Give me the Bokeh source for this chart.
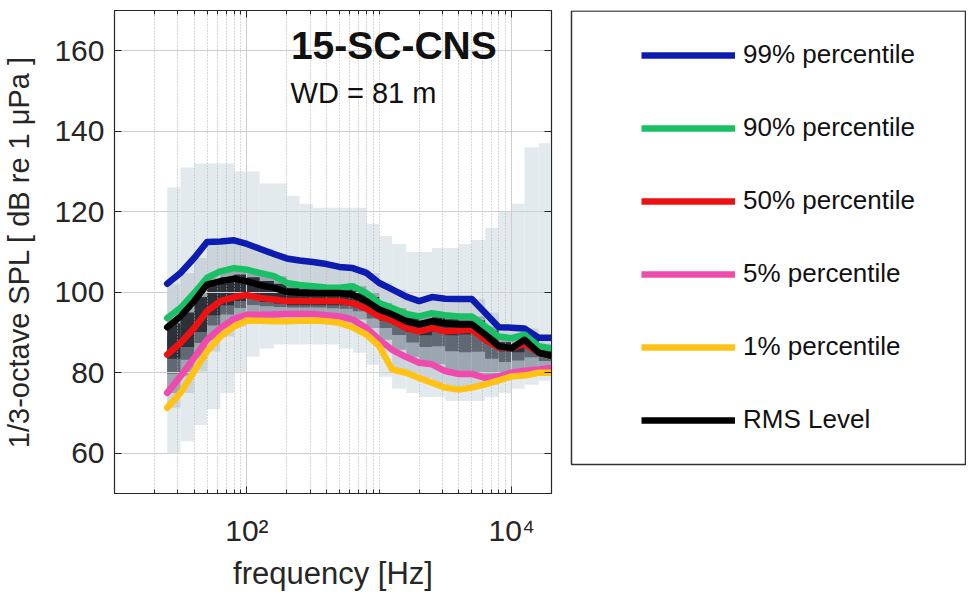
from bokeh.plotting import figure
from bokeh.layouts import row
from bokeh.models import (FixedTicker, LogAxis, LinearAxis, Label, Legend, LegendItem,
                          Range1d, CustomJSTickFormatter, BoxAnnotation)
from bokeh.embed import file_html
from bokeh.resources import INLINE

# ---------------- data ----------------
freqs = [25, 31.5, 40, 50, 63, 80, 100, 125, 160, 200, 250, 315, 400, 500, 630,
         800, 1000, 1250, 1600, 2000, 2500, 3150, 4000, 5000, 6300, 8000, 10000,
         12500, 16000, 20000]

p99 = [102.1, 104.8, 108.5, 112.5, 112.6, 112.9, 112.0, 110.8, 109.5, 108.4, 107.9,
       107.5, 107.0, 106.3, 106.0, 104.8, 102.3, 100.7, 98.9, 97.8, 98.8, 98.4, 98.3,
       98.3, 94.9, 91.3, 91.2, 91.0, 88.7, 88.7]
p90 = [93.6, 96.1, 99.8, 103.6, 105.2, 106.0, 105.6, 104.8, 104.0, 102.3, 101.8,
       101.5, 101.2, 101.1, 101.5, 99.8, 97.3, 96.1, 94.6, 94.0, 94.8, 94.3, 94.0,
       94.0, 91.5, 89.0, 88.6, 89.5, 86.6, 86.1]
p50 = [84.5, 87.4, 91.1, 95.3, 97.8, 98.8, 99.3, 98.6, 98.2, 97.8, 97.8, 97.8, 97.8,
       97.8, 97.3, 95.9, 94.0, 93.0, 91.1, 90.3, 91.1, 90.3, 90.5, 90.7, 88.2, 86.3,
       86.1, 87.2, 85.0, 84.2]
p5 = [75.0, 79.1, 83.7, 88.2, 91.1, 93.4, 94.4, 94.4, 94.5, 94.6, 94.6, 94.6, 94.3,
      94.0, 93.2, 91.1, 88.2, 85.7, 83.9, 82.5, 82.1, 80.4, 79.7, 79.7, 78.7, 79.1,
      80.0, 80.5, 80.8, 81.2]
p1 = [71.3, 75.0, 80.4, 85.3, 89.0, 91.5, 93.0, 92.9, 92.8, 92.8, 92.9, 93.0, 92.8,
      92.4, 91.3, 89.5, 86.6, 80.8, 80.0, 78.7, 77.5, 76.3, 75.8, 76.3, 77.1, 78.1,
      79.1, 79.3, 80.0, 80.0]
rms = [91.3, 94.0, 97.8, 101.9, 102.7, 103.4, 102.7, 101.8, 101.1, 100.1, 99.9, 99.8,
       99.8, 99.8, 99.4, 97.8, 95.7, 94.5, 92.8, 92.0, 92.8, 92.3, 92.0, 92.0, 89.5,
       86.6, 86.1, 88.2, 85.0, 84.2]

# extent of the (light) level distribution
env_max = [126, 131, 132, 132, 132, 130, 130, 127, 127, 124, 122, 121, 121, 121, 121,
           117, 114, 112, 110, 110, 111, 111, 112, 113, 116, 120, 122, 136, 137, 136]
env_min = [60, 63, 67, 71, 75, 80, 84, 86, 87, 87, 87, 87, 87, 86, 85, 82, 79, 76, 75,
           74, 74, 73, 73, 73, 74, 75, 76, 77, 78, 78]

series_labels = ["99% percentile", "90% percentile", "50% percentile",
                 "5% percentile", "1% percentile", "RMS Level"]
series_colors = ["#0c1cb0", "#19c065", "#ee1111", "#ef4aad", "#ffc215", "#000000"]

y_ticks = [60, 80, 100, 120, 140, 160]
x_major = [100, 10000]
x_minor = [10, 20, 30, 40, 50, 60, 70, 80, 90, 200, 300, 400, 500, 600, 700, 800, 900,
           1000, 2000, 3000, 4000, 5000, 6000, 7000, 8000, 9000, 20000]

FONT = "Liberation Sans"
TXT = "#262626"
TOP, BOTTOM = 10, 101

# ---------------- main figure ----------------
p = figure(width=565, height=594, x_axis_type="log", x_range=Range1d(10, 20000),
           y_range=Range1d(50, 170), output_backend="svg", toolbar_location=None,
           min_border_left=114, min_border_right=14, min_border_top=TOP,
           min_border_bottom=BOTTOM)
p.outline_line_color = TXT
p.outline_line_width = 1.2
p.background_fill_color = "white"

# density-like shading (cells from one band centre to the next)
left = freqs[:-1]
right = freqs[1:]
n = len(left)
mid_lo = [(a + b) / 2 for a, b in zip(p5[:n], p50[:n])]
mid_hi = [(a + b) / 2 for a, b in zip(p50[:n], p90[:n])]
core_lo = [min(a, b) - 1.0 for a, b in zip(p50[:n], rms[:n])]
core_hi = [max(a, b) + 1.0 for a, b in zip(p50[:n], rms[:n])]
layers = [
    (env_min[:n], env_max[:n], "#e3eaee"),
    (p1[:n], p99[:n], "#cbd4da"),
    (p5[:n], p90[:n], "#9ca6b0"),
    (mid_lo, mid_hi, "#606874"),
    (core_lo, core_hi, "#2c3139"),
]
for lo, hi, col in layers:
    p.quad(left=left, right=right, bottom=lo, top=hi, fill_color=col,
           line_color=None, level="image")

series = [p99, p90, p50, p5, p1, rms]
for vals, col in zip(series, series_colors):
    p.line(freqs, vals, line_color=col, line_width=6.5, line_join="round",
           line_cap="round")

# axes
p.xaxis.ticker = FixedTicker(ticks=x_major, minor_ticks=x_minor)
p.yaxis.ticker = FixedTicker(ticks=y_ticks, minor_ticks=[])
fmt = CustomJSTickFormatter(code="""
const sup = {'0':'\u2070','1':'\u00b9','2':'\u00b2','3':'\u00b3','4':'\u2074','5':'\u2075'};
const e = Math.round(Math.log10(tick));
return '10' + String(e).split('').map(c => sup[c]).join('');
""")
p.xaxis.formatter = fmt

for ax in (p.xaxis[0], p.yaxis[0]):
    ax.axis_line_color = TXT
    ax.major_tick_line_color = TXT
    ax.minor_tick_line_color = TXT
    ax.major_tick_in = 7
    ax.major_tick_out = 0
    ax.minor_tick_in = 4
    ax.minor_tick_out = 0
    ax.major_label_text_font = FONT
    ax.major_label_text_font_size = "30px"
    ax.major_label_text_color = TXT
    ax.axis_label_text_font = FONT
    ax.axis_label_text_color = TXT
    ax.axis_label_text_font_style = "normal"

p.xaxis.axis_label = "frequency [Hz]"
p.yaxis.axis_label = "1/3-octave SPL [ dB re 1 \u03bcPa ]"
p.xaxis.axis_label_text_font_size = "31px"
p.yaxis.axis_label_text_font_size = "29px"
p.xaxis.major_label_standoff = 20
p.xaxis.axis_label_standoff = 6
p.yaxis.major_label_standoff = 10
p.yaxis.axis_label_standoff = 16

# mirrored ticks (box)
blank = CustomJSTickFormatter(code="return '';")
top_ax = LogAxis(ticker=FixedTicker(ticks=x_major, minor_ticks=x_minor),
                 formatter=blank, major_label_text_font_size="8px",
                 major_tick_in=7, major_tick_out=0,
                 minor_tick_in=4, minor_tick_out=0, axis_line_color=TXT,
                 major_tick_line_color=TXT, minor_tick_line_color=TXT,
                 major_label_standoff=0)
right_ax = LinearAxis(ticker=FixedTicker(ticks=y_ticks, minor_ticks=[]),
                      formatter=blank, major_label_text_font_size="8px",
                      major_tick_in=7, major_tick_out=0, axis_line_color=TXT,
                      major_tick_line_color=TXT, major_label_standoff=0)
p.add_layout(top_ax, "above")
p.add_layout(right_ax, "right")

# grid
p.ygrid.grid_line_color = "#cfcfcf"
p.ygrid.grid_line_width = 1
p.xgrid.grid_line_color = "#cfcfcf"
p.xgrid.minor_grid_line_color = "#b0b0b0"
p.xgrid.minor_grid_line_dash = "1 2"
p.xgrid.minor_grid_line_width = 1

# annotations
p.add_layout(Label(x=215, y=161.3, text="15-SC-CNS", text_font=FONT,
                   text_font_size="39px", text_font_style="bold", text_color="#111111",
                   text_baseline="middle", text_align="left"))
p.add_layout(Label(x=214, y=149.4, text="WD = 81 m", text_font=FONT,
                   text_font_size="29px", text_color="#111111",
                   text_baseline="middle", text_align="left"))

# ---------------- legend panel ----------------
lg = figure(width=401, height=594, x_range=Range1d(0, 1), y_range=Range1d(0, 1),
            output_backend="svg", toolbar_location=None,
            min_border_left=2, min_border_right=0,
            min_border_top=TOP, min_border_bottom=BOTTOM)
lg.xaxis.visible = False
lg.yaxis.visible = False
lg.grid.visible = False
lg.outline_line_color = None

lg.add_layout(BoxAnnotation(left=0.01, right=0.9975, top=0.999, bottom=0.06,
                            fill_alpha=0, line_color="#303030", line_alpha=1.0,
                            line_width=1.5))

items = []
for lab, col in zip(series_labels, series_colors):
    r = lg.line(x=[0, 1], y=[0.5, 0.5], line_color=col, line_width=6.5, visible=False)
    items.append(LegendItem(label=lab, renderers=[r]))

legend = Legend(items=items, location=(74, 58), padding=0, margin=0,
                spacing=42, glyph_width=94, glyph_height=30, label_height=30,
                label_standoff=8, label_text_font=FONT, label_text_font_size="26px",
                label_text_color="#111111", border_line_alpha=0,
                background_fill_alpha=0)
lg.add_layout(legend, "center")

layout = row(p, lg)
open("out.html", "w").write(file_html(layout, INLINE))
